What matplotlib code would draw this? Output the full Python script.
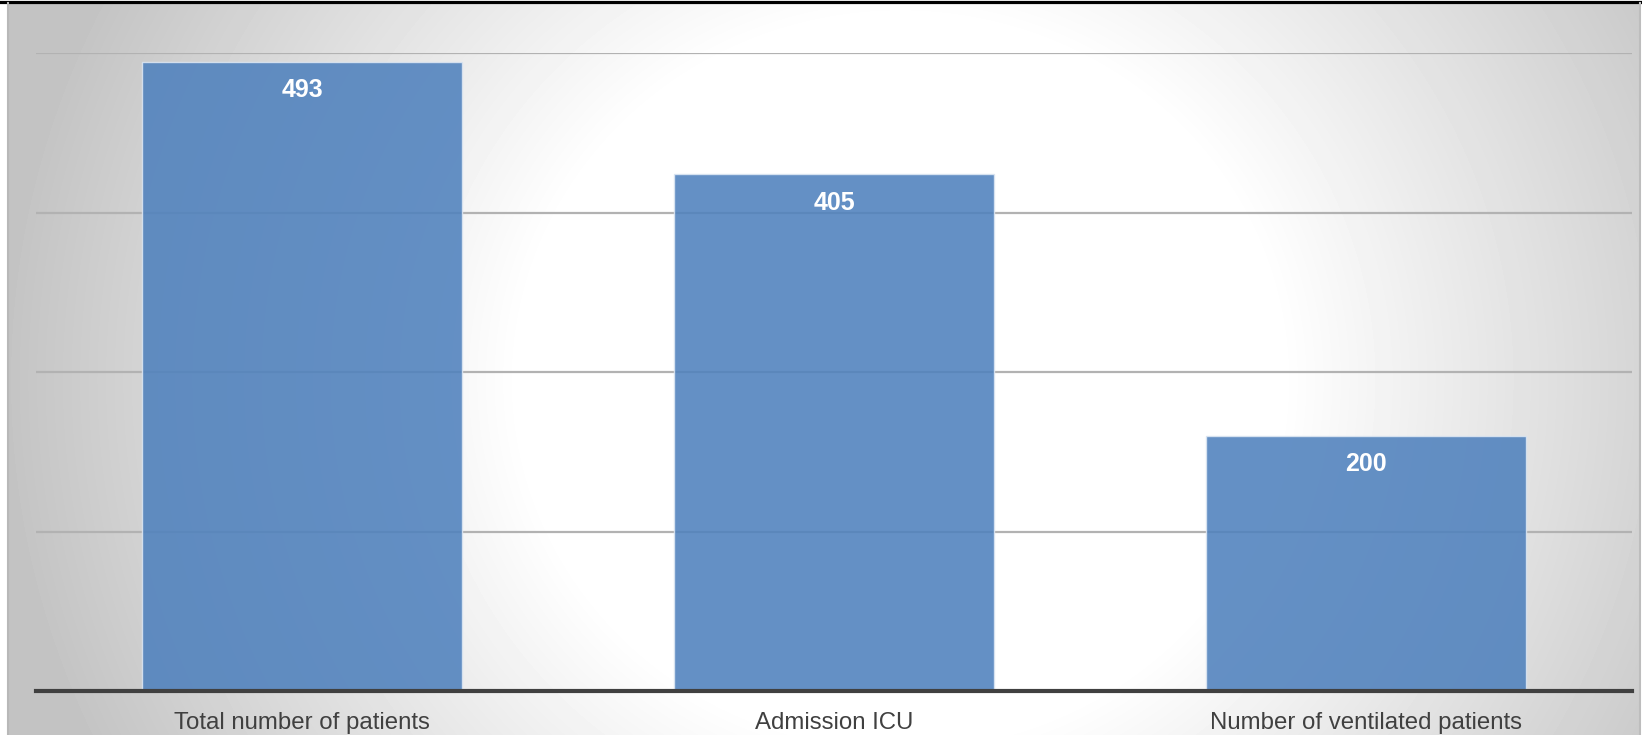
import numpy as np
import matplotlib.pyplot as plt

categories = ["Total number of patients", "Admission ICU", "Number of ventilated patients"]
patients = [493, 405, 200]
y_ticks = [0, 125, 250, 375, 500]

W, H = 1642, 735
fig = plt.figure(figsize=(W / 100, H / 100), dpi=100, facecolor="white")

# radial grey-to-white backdrop behind the chart
bg = fig.add_axes([8 / W, 0, (1639 - 8) / W, (H - 3) / H])
yy, xx = np.mgrid[3:H, 8:1639]
dist = np.hypot(xx - 900, (yy - 380) * 1.05)
shade = 255 - np.clip((dist - 380) / 520, 0, 1) * 60
bg.imshow(shade, cmap="gray", vmin=0, vmax=255, aspect="auto",
          interpolation="bilinear")
bg.set_axis_off()

# thin frame pieces around the slide
fig.add_artist(plt.Line2D([0, 1], [1 - 1.5 / H, 1 - 1.5 / H],
                          color="black", lw=2.3, transform=fig.transFigure))
fig.add_artist(plt.Line2D([8 / W, 8 / W], [0, 1 - 3 / H],
                          color="#b8b8b8", lw=1.5, transform=fig.transFigure))
fig.add_artist(plt.Line2D([1640 / W, 1640 / W], [0, 1 - 3 / H],
                          color="#bdbdbd", lw=1.5, transform=fig.transFigure))

ax = fig.add_axes([36 / W, (H - 691) / H, 1596 / W, 638 / H])
ax.patch.set_alpha(0)
x = np.arange(len(categories))
bars = ax.bar(x, patients, width=0.6, color="#4f81bd", alpha=0.88,
              edgecolor="#dce6f2", linewidth=1.0, zorder=3)

for rect, val in zip(bars, patients):
    ax.annotate(str(val), (rect.get_x() + rect.get_width() / 2, val),
                xytext=(0, -20.5), textcoords="offset points",
                ha="center", va="center", color="white",
                fontsize=18, fontweight="bold", family="Liberation Sans",
                zorder=5)

ax.set_xlim(-0.5, len(categories) - 0.5)
ax.set_ylim(0, 500)
ax.set_yticks(y_ticks[1:])
ax.yaxis.grid(True, color="#b2b2b2", lw=1.6, zorder=1)
ax.tick_params(axis="y", left=False, labelleft=False)
ax.set_xticks(x)
ax.set_xticklabels(categories, fontsize=17.3, color="#404040",
                   family="Liberation Sans")
ax.tick_params(axis="x", length=0, pad=15)

for side in ["top", "right", "left"]:
    ax.spines[side].set_visible(False)
ax.spines["bottom"].set_color("#404040")
ax.spines["bottom"].set_linewidth(3)
ax.spines["bottom"].set_zorder(4)

fig.savefig("out.png", dpi=100, facecolor=fig.get_facecolor())
